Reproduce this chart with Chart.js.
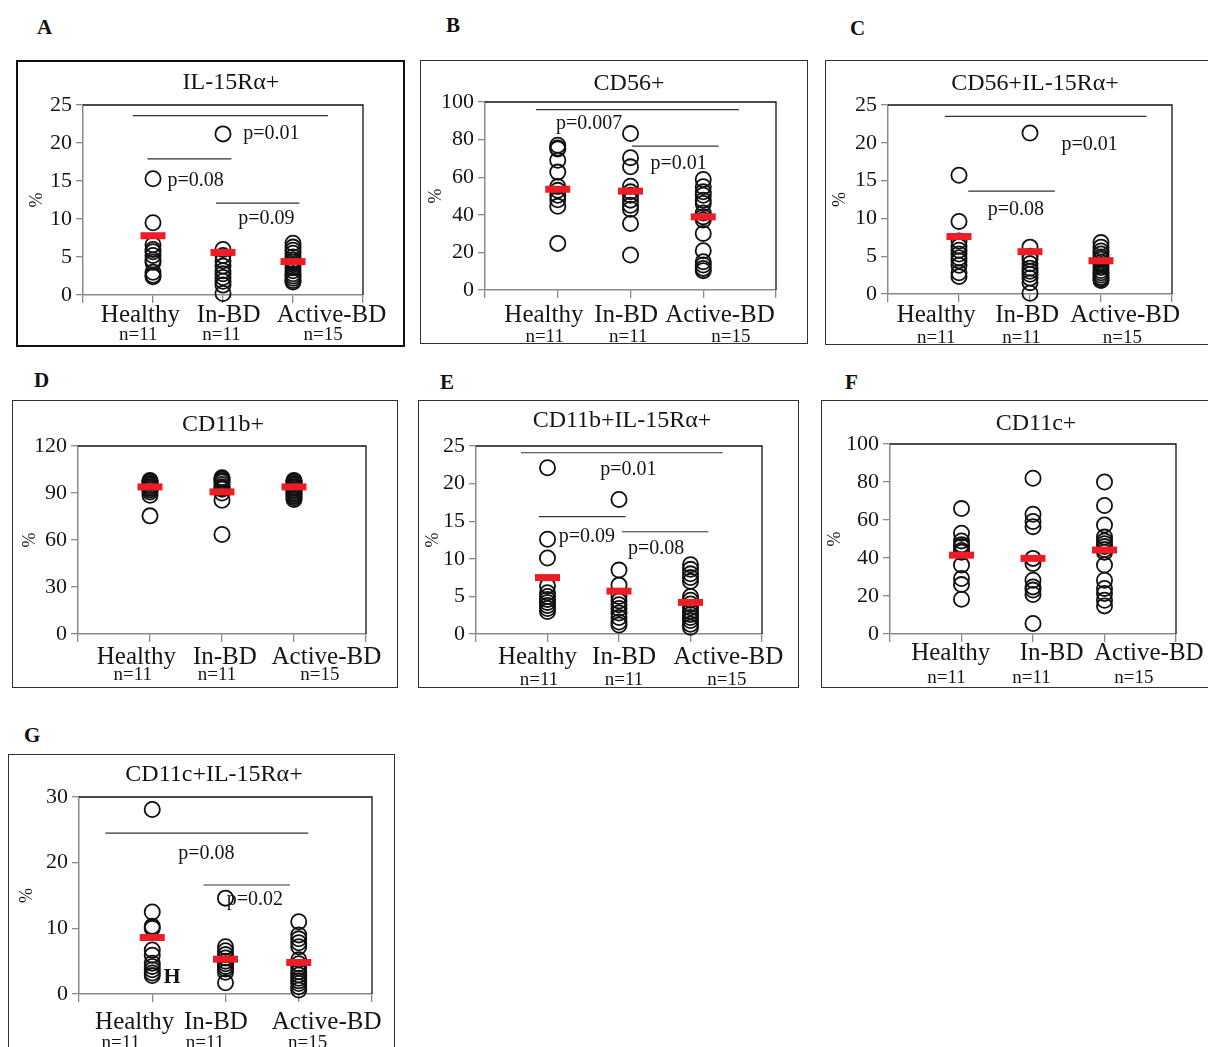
<!DOCTYPE html>
<html lang="en">
<head>
<meta charset="UTF-8">
<title>IL-15Ra expression by group</title>
<script src="https://cdn.jsdelivr.net/npm/chart.js@4"></script>
<style>
  html, body { margin: 0; padding: 0; background: #fff; overflow: hidden; width: 1208px; height: 1047px; }
  .frame { position: absolute; box-sizing: border-box; border: 1.5px solid #333; }
  .frame.thick { border: 2.5px solid #111; }
  .letter { position: absolute; font: bold 21px "Liberation Serif", serif; line-height: 1; color: #111; }
  canvas { position: absolute; }
</style>
</head>
<body>
<script>
const categories = ['Healthy', 'In-BD', 'Active-BD'];
const groupSizes = ['n=11', 'n=11', 'n=15'];

// A  IL-15Ra+
const aHealthy = [15.3, 9.5, 6.6, 6.0, 5.7, 5.2, 4.6, 4.3, 3.0, 2.6, 2.4];
const aInBD = [21.2, 6.0, 5.2, 4.5, 3.8, 3.2, 2.8, 2.3, 1.8, 1.3, 0.2];
const aActive = [6.8, 6.3, 5.9, 5.5, 5.0, 4.6, 4.3, 4.0, 3.6, 3.2, 2.8, 2.5, 2.2, 1.9, 1.7];
const aBars = [7.8, 5.6, 4.4];

// B  CD56+
const bHealthy = [77, 75.5, 75, 69, 62.7, 55, 53, 50.4, 48, 44.5, 24.8];
const bInBD = [83.2, 70.4, 65.5, 55.2, 52.2, 50.4, 47.8, 45.1, 43, 35.4, 18.6];
const bActive = [58.8, 54.9, 52.2, 50.4, 47.8, 46, 41, 38.9, 37.2, 30.1, 20.9, 15, 13.3, 11.5, 10.3];
const bBars = [53.6, 52.6, 38.9];

// C  CD56+IL-15Ra+
const cHealthy = [15.7, 9.6, 7.0, 6.3, 5.8, 5.3, 4.8, 4.4, 3.8, 2.8, 2.3];
const cInBD = [21.3, 6.2, 5.0, 4.6, 4.0, 3.4, 3.0, 2.6, 2.1, 1.5, 0.1];
const cActive = [6.8, 6.2, 5.7, 5.3, 4.9, 4.6, 4.2, 3.9, 3.5, 3.1, 2.8, 2.5, 2.2, 2.0, 1.8];
const cBars = [7.6, 5.6, 4.4];

// D  CD11b+
const dHealthy = [98, 97.5, 97, 96, 95, 94, 93, 92, 90.7, 88.6, 75.4];
const dInBD = [99.8, 99, 98, 97, 95.4, 94, 93, 92.4, 90, 85.4, 63.5];
const dActive = [98, 97.5, 97, 96, 95, 94, 93.5, 93, 92, 91, 90, 89, 88, 87, 85.8];
const dBars = [93.9, 90.7, 93.9];

// E  CD11b+IL-15Ra+
const eHealthy = [22.1, 12.6, 10.1, 6.4, 5.5, 5.0, 4.6, 4.2, 3.8, 3.4, 3.0];
const eInBD = [17.9, 8.5, 6.5, 5.0, 4.4, 3.9, 3.4, 2.8, 2.2, 1.6, 1.2];
const eActive = [9.2, 8.6, 8.0, 7.5, 7.0, 5.0, 4.5, 4.0, 3.5, 3.0, 2.6, 2.2, 1.8, 1.3, 0.9];
const eBars = [7.5, 5.7, 4.2];

// F  CD11c+
const fHealthy = [66, 53, 49, 47, 46, 44, 43, 36.3, 29.2, 26, 18.3];
const fInBD = [82, 63, 59.2, 56.5, 39.8, 37.1, 28.3, 24.8, 23.1, 20.8, 5.5];
const fActive = [80, 67.6, 57.4, 51, 49, 47.5, 46, 44.5, 43, 36.3, 28.3, 24, 21.3, 17.8, 14.8];
const fBars = [41.5, 39.8, 44.2];

// G  CD11c+IL-15Ra+
const gHealthy = [28.1, 12.5, 10.3, 10.0, 6.7, 5.9, 4.7, 4.2, 3.7, 3.2, 2.8];
const gInBD = [14.6, 7.2, 6.6, 6.0, 5.5, 5.0, 4.6, 4.2, 3.8, 3.3, 1.7];
const gActive = [11.0, 9.0, 8.4, 7.8, 7.2, 5.2, 4.6, 4.0, 3.4, 2.9, 2.4, 2.0, 1.6, 1.1, 0.6];
const gBars = [8.6, 5.3, 4.8];

// layout of each panel (page pixels) and where the p-value notes sit (data units)
const panels = [
  { letter: 'A', letterAt: [37, 17], title: 'IL-15R\u03b1+', titleAt: [231, 83], thick: true,
    groups: [aHealthy, aInBD, aActive], bars: aBars, yMax: 25, yStep: 5,
    box: [16, 60, 389, 287], plot: [83, 105, 363, 295], pctX: 37,
    labelX: [0.82, 2.08, 3.55], nX: [0.79, 1.98, 3.43], labelDy: 20, nDy: 40,
    lines: [[0.71, 3.5, 23.6], [0.92, 2.12, 17.9], [1.9, 3.09, 12.1]],
    notes: [['p=0.01', 2.69, 21.2], ['p=0.08', 1.61, 15.0], ['p=0.09', 2.62, 10.0]] },
  { letter: 'B', letterAt: [446, 15], title: 'CD56+', titleAt: [629, 84],
    groups: [bHealthy, bInBD, bActive], bars: bBars, yMax: 100, yStep: 20,
    box: [420, 60, 388, 284], plot: [485, 102, 776, 290], pctX: 436,
    labelX: [0.81, 1.94, 3.23], nX: [0.82, 1.97, 3.38], labelDy: 25, nDy: 47,
    lines: [[0.70, 3.49, 95.9], [2.02, 3.21, 76.5]],
    notes: [['p=0.007', 1.43, 88.5], ['p=0.01', 2.66, 67.3]] },
  { letter: 'C', letterAt: [850, 18], title: 'CD56+IL-15R\u03b1+', titleAt: [1035, 84],
    groups: [cHealthy, cInBD, cActive], bars: cBars, yMax: 25, yStep: 5,
    box: [825, 60, 400, 285], plot: [888, 105, 1172, 294], pctX: 840,
    labelX: [0.68, 1.96, 3.34], nX: [0.68, 1.88, 3.3], labelDy: 21, nDy: 44,
    lines: [[0.8, 3.64, 23.5], [1.13, 2.35, 13.6]],
    notes: [['p=0.01', 2.84, 19.7], ['p=0.08', 1.8, 11.1]] },
  { letter: 'D', letterAt: [34, 370], title: 'CD11b+', titleAt: [223, 425],
    groups: [dHealthy, dInBD, dActive], bars: dBars, yMax: 120, yStep: 30,
    box: [12, 400, 386, 288], plot: [78, 446, 366, 634], pctX: 30,
    labelX: [0.81, 2.04, 3.45], nX: [0.76, 1.93, 3.36], labelDy: 23, nDy: 41,
    lines: [], notes: [] },
  { letter: 'E', letterAt: [440, 372], title: 'CD11b+IL-15R\u03b1+', titleAt: [622, 421],
    groups: [eHealthy, eInBD, eActive], bars: eBars, yMax: 25, yStep: 5,
    box: [418, 400, 381, 288], plot: [476, 446, 762, 634], pctX: 433,
    labelX: [0.86, 2.07, 3.53], nX: [0.88, 2.07, 3.51], labelDy: 23, nDy: 46,
    lines: [[0.63, 3.45, 24.1], [0.88, 2.09, 15.6], [2.04, 3.25, 13.6]],
    notes: [['p=0.01', 2.13, 21.9], ['p=0.09', 1.55, 12.9], ['p=0.08', 2.52, 11.4]] },
  { letter: 'F', letterAt: [845, 372], title: 'CD11c+', titleAt: [1036, 424],
    groups: [fHealthy, fInBD, fActive], bars: fBars, yMax: 100, yStep: 20,
    box: [821, 400, 400, 288], plot: [890, 444, 1176, 634], pctX: 835,
    labelX: [0.85, 2.26, 3.62], nX: [0.79, 1.98, 3.41], labelDy: 19, nDy: 44,
    lines: [], notes: [] },
  { letter: 'G', letterAt: [24, 725], title: 'CD11c+IL-15R\u03b1+', titleAt: [214, 775],
    groups: [gHealthy, gInBD, gActive], bars: gBars, yMax: 30, yStep: 10,
    box: [8, 754, 387, 310], plot: [79, 797, 372, 994], pctX: 27,
    labelX: [0.76, 1.87, 3.38], nX: [0.57, 1.72, 3.12], labelDy: 28, nDy: 49,
    lines: [[0.36, 3.13, 24.5], [1.7, 2.88, 16.6]],
    notes: [['p=0.08', 1.74, 21.3], ['p=0.02', 2.4, 14.4]],
    bold: [['H', 1.27, 2.6]] }
];

const serif = '"Liberation Serif", "Times New Roman", serif';

function panelDecor(p) {
  return {
    id: 'decor' + p.letter,
    afterDraw(chart) {
      const ctx = chart.ctx, area = chart.chartArea;
      const xs = chart.scales.x, ys = chart.scales.y;
      ctx.save();
      // top and right edge of the plot box
      ctx.strokeStyle = '#111';
      ctx.lineWidth = 1.3;
      ctx.beginPath();
      ctx.moveTo(area.left, area.top);
      ctx.lineTo(area.right, area.top);
      ctx.lineTo(area.right, area.bottom);
      ctx.stroke();

      ctx.fillStyle = '#151515';
      ctx.textAlign = 'center';
      ctx.textBaseline = 'middle';
      ctx.font = '24px ' + serif;
      ctx.fillText(p.title, p.titleAt[0] - p.box[0], p.titleAt[1] - p.box[1]);
      ctx.font = '25px ' + serif;
      categories.forEach((c, i) => ctx.fillText(c, xs.getPixelForValue(p.labelX[i]), area.bottom + p.labelDy));
      ctx.font = '19px ' + serif;
      groupSizes.forEach((n, i) => ctx.fillText(n, xs.getPixelForValue(p.nX[i]), area.bottom + p.nDy));

      ctx.strokeStyle = '#333';
      ctx.lineWidth = 1.2;
      p.lines.forEach(([a, b, y]) => {
        ctx.beginPath();
        ctx.moveTo(xs.getPixelForValue(a), ys.getPixelForValue(y));
        ctx.lineTo(xs.getPixelForValue(b), ys.getPixelForValue(y));
        ctx.stroke();
      });
      ctx.font = '20px ' + serif;
      p.notes.forEach(([t, x, y]) => ctx.fillText(t, xs.getPixelForValue(x), ys.getPixelForValue(y)));
      ctx.font = 'bold 22px ' + serif;
      (p.bold || []).forEach(([t, x, y]) => ctx.fillText(t, xs.getPixelForValue(x), ys.getPixelForValue(y)));
      ctx.restore();
    }
  };
}

panels.forEach(p => {
  const [bx, by, bw, bh] = p.box;
  const frame = document.createElement('div');
  frame.className = 'frame' + (p.thick ? ' thick' : '');
  frame.style.left = bx + 'px';
  frame.style.top = by + 'px';
  frame.style.width = bw + 'px';
  frame.style.height = bh + 'px';
  document.body.appendChild(frame);

  const letter = document.createElement('div');
  letter.className = 'letter';
  letter.textContent = p.letter;
  letter.style.left = p.letterAt[0] + 'px';
  letter.style.top = p.letterAt[1] + 'px';
  document.body.appendChild(letter);

  const cw = Math.min(bw, 1208 - bx);
  const ch = Math.min(bh, 1047 - by);
  const canvas = document.createElement('canvas');
  canvas.width = cw;
  canvas.height = ch;
  canvas.style.left = bx + 'px';
  canvas.style.top = by + 'px';
  canvas.style.width = cw + 'px';
  canvas.style.height = ch + 'px';
  document.body.appendChild(canvas);

  const axisLeft = p.pctX - 14.8;
  const yWidth = p.plot[0] - axisLeft;
  const xHeight = 10;
  const padding = {
    left: axisLeft - bx,
    top: p.plot[1] - by,
    right: cw - (p.plot[2] - bx),
    bottom: ch - (p.plot[3] - by) - xHeight
  };

  const pointSets = p.groups.map((vals, i) => ({
    data: vals.map(v => ({ x: i + 1, y: v })),
    pointStyle: 'circle',
    pointRadius: 7.6,
    borderColor: '#111',
    borderWidth: 1.8,
    backgroundColor: 'rgba(0,0,0,0)',
    clip: false,
    order: 1
  }));
  const barSet = {
    data: p.bars.map((v, i) => ({ x: i + 1, y: v })),
    pointStyle: 'line',
    pointRadius: 12.5,
    borderColor: '#ee1c25',
    borderWidth: 7,
    clip: false,
    order: 0
  };

  new Chart(canvas, {
    type: 'scatter',
    data: { datasets: [barSet, ...pointSets] },
    options: {
      responsive: false,
      animation: false,
      events: [],
      layout: { padding: padding },
      plugins: { legend: { display: false }, tooltip: { enabled: false } },
      scales: {
        x: {
          type: 'linear', min: 0, max: 4,
          afterFit: s => { s.height = xHeight; },
          ticks: { stepSize: 1, autoSkip: false, callback: () => '', padding: 0 },
          grid: { drawOnChartArea: false, tickLength: 8, color: '#8a8a8a', lineWidth: 1.3 },
          border: { color: '#8a8a8a', width: 1.5 }
        },
        y: {
          min: 0, max: p.yMax,
          afterFit: s => { s.width = yWidth; },
          ticks: { stepSize: p.yStep, color: '#151515', font: { family: serif, size: 22 }, padding: 4 },
          grid: { drawOnChartArea: false, tickLength: 7, color: '#8a8a8a', lineWidth: 1.3 },
          border: { color: '#8a8a8a', width: 1.5 },
          title: { display: true, text: '%', color: '#151515', font: { family: serif, size: 18 }, padding: { top: 4, bottom: 4 } }
        }
      }
    },
    plugins: [panelDecor(p)]
  });
});
</script>
</body>
</html>
